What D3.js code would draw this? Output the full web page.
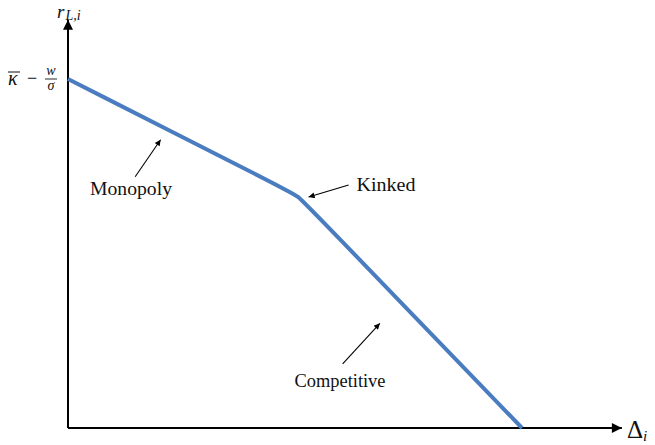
<!DOCTYPE html>
<html><head><meta charset="utf-8">
<script src="https://cdn.jsdelivr.net/npm/d3@7"></script>
<style>
html,body{margin:0;padding:0;background:#fff;}
</style></head>
<body><svg id="c" width="655" height="445"></svg>
<script>
// Data (abstract units): x = Δ_i, y = r_{L,i}
const curveX = [0, 0, 0.485, 0.507, 0.53, 1, 1];
const curveY = [1, 1, 0.68, 0.664, 0.634, 0, 0];
const axisMaxX = 1.22;   // extent of Δ axis
const axisMaxY = 1.17;   // extent of r axis
const annotations = [
  {label:"Monopoly",    tx:131, ty:195, from:[0.148,0.72], to:[0.204,0.826], len:82},
  {label:"Kinked",      tx:386, ty:191, from:[0.618,0.696], to:[0.53,0.662], len:59},
  {label:"Competitive", tx:340, ty:387, from:[0.605,0.184], to:[0.687,0.3], len:91}
];

const FONT = "'Liberation Serif','DejaVu Serif','Times New Roman',serif";
const svg = d3.select("#c");
const x = d3.scaleLinear().domain([0,1]).range([68,522]);
const y = d3.scaleLinear().domain([0,1]).range([428,79]);

const defs = svg.append("defs");
defs.append("marker").attr("id","ax").attr("viewBox","0 0 10 10").attr("refX",10).attr("refY",5)
  .attr("markerWidth",12).attr("markerHeight",10).attr("markerUnits","userSpaceOnUse").attr("orient","auto")
  .append("path").attr("d","M0,0L10,5L0,10Z").attr("fill","#000");
defs.append("marker").attr("id","an").attr("viewBox","0 0 10 10").attr("refX",10).attr("refY",5)
  .attr("markerWidth",8).attr("markerHeight",6).attr("markerUnits","userSpaceOnUse").attr("orient","auto")
  .append("path").attr("d","M0,0L10,5L0,10Z").attr("fill","#000");

// axes
svg.append("line").attr("x1",x(0)).attr("y1",y(0)).attr("x2",x(0)).attr("y2",y(axisMaxY))
  .attr("stroke","#000").attr("stroke-width",2).attr("marker-end","url(#ax)");
svg.append("line").attr("x1",x(0)).attr("y1",y(0)).attr("x2",x(axisMaxX)).attr("y2",y(0))
  .attr("stroke","#000").attr("stroke-width",2).attr("marker-end","url(#ax)");

// curve
const pts = curveX.map((v,i)=>[v,curveY[i]]);
svg.append("path").datum(pts)
  .attr("d", d3.line().x(d=>x(d[0])).y(d=>y(d[1])).curve(d3.curveBasis))
  .attr("fill","none").attr("stroke","#4a7cc0").attr("stroke-width",4);

function txt(sel){ return sel.attr("font-family",FONT).attr("fill","#111"); }

// annotations
annotations.forEach(a=>{
  svg.append("line").attr("x1",x(a.from[0])).attr("y1",y(a.from[1]))
    .attr("x2",x(a.to[0])).attr("y2",y(a.to[1]))
    .attr("stroke","#000").attr("stroke-width",1.1).attr("marker-end","url(#an)");
  txt(svg.append("text")).attr("x",a.tx).attr("y",a.ty).attr("text-anchor","middle")
    .attr("font-size",18).attr("textLength",a.len).attr("lengthAdjust","spacingAndGlyphs").text(a.label);
});

// axis labels
const rl = txt(svg.append("text")).attr("x",57).attr("y",18).attr("font-size",19);
rl.append("tspan").attr("font-style","italic").text("r");
rl.append("tspan").attr("font-size",14).attr("font-style","italic").attr("dy",2).attr("dx",1).text("L,i");

const dl = txt(svg.append("text")).attr("x",627).attr("y",438).attr("font-size",25);
dl.append("tspan").text("Δ");
dl.append("tspan").attr("font-size",15).attr("font-style","italic").attr("dy",3).text("i");

// y intercept label: κ̄ − w/σ
const g = svg.append("g");
txt(g.append("text")).attr("x",8).attr("y",85).attr("font-size",20).attr("font-style","italic").text("κ");
g.append("line").attr("x1",8).attr("x2",20).attr("y1",72).attr("y2",72).attr("stroke","#111").attr("stroke-width",1);
txt(g.append("text")).attr("x",32).attr("y",84).attr("font-size",18).attr("text-anchor","middle").text("−");
txt(g.append("text")).attr("x",51).attr("y",75).attr("font-size",14).attr("font-style","italic").attr("text-anchor","middle").text("w");
g.append("line").attr("x1",45).attr("x2",57).attr("y1",79).attr("y2",79).attr("stroke","#111").attr("stroke-width",0.9);
txt(g.append("text")).attr("x",51).attr("y",90).attr("font-size",14).attr("font-style","italic").attr("text-anchor","middle").text("σ");
</script></body></html>
